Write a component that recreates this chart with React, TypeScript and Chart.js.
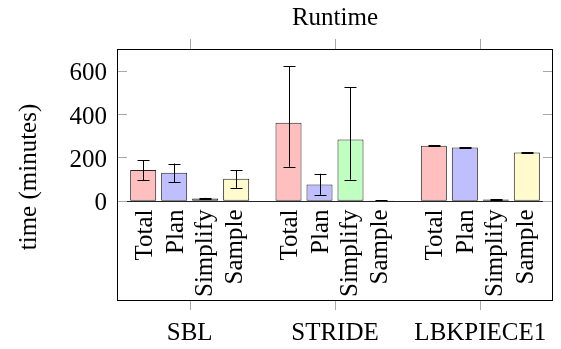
import React, { useEffect, useRef } from "react";
import { Chart, registerables } from "chart.js";

Chart.register(...registerables);

// ---- data ----
const groups = ["SBL", "STRIDE", "LBKPIECE1"];
const seriesNames = ["Total", "Plan", "Simplify", "Sample"];

const totalMean = [142, 360, 254];
const totalLow = [96, 157, 252];
const totalHigh = [188, 621, 256];

const planMean = [129, 75, 246];
const planLow = [85, 28, 245];
const planHigh = [172, 125, 247];

const simplifyMean = [11, 283, 6];
const simplifyLow = [8, 98, 5];
const simplifyHigh = [14, 523, 7];

const sampleMean = [102, 2, 223];
const sampleLow = [60, 1, 222];
const sampleHigh = [140, 3, 224];

const yTicks = [0, 200, 400, 600];
const yMin = -457;
const yMax = 700;
const chartTitle = "Runtime";
const yTitle = "time (minutes)";

const fills = ["#ffbfbf", "#bfbfff", "#bfffbf", "#fffbcc"];

const means = [totalMean, planMean, simplifyMean, sampleMean];
const lows = [totalLow, planLow, simplifyLow, sampleLow];
const highs = [totalHigh, planHigh, simplifyHigh, sampleHigh];

const FONT_FAMILY = '"Liberation Serif", "DejaVu Serif", serif';
const FONT = `25px ${FONT_FAMILY}`;

const px = (v: number) => Math.round(v) + 0.5;

const decoPlugin = {
  id: "deco",
  afterDatasetsDraw(chart: any) {
    const ctx: CanvasRenderingContext2D = chart.ctx;
    const { left, right, top, bottom } = chart.chartArea;
    const xs = chart.scales.x;
    const ys = chart.scales.y;
    ctx.save();

    // error bars
    ctx.strokeStyle = "#000";
    ctx.lineWidth = 1;
    chart.data.datasets.forEach((_ds: any, di: number) => {
      const meta = chart.getDatasetMeta(di);
      meta.data.forEach((el: any, i: number) => {
        const x = px(el.x);
        const yl = ys.getPixelForValue(lows[di][i]);
        const yh = ys.getPixelForValue(highs[di][i]);
        ctx.beginPath();
        ctx.moveTo(x, yh);
        ctx.lineTo(x, yl);
        ctx.moveTo(x - 6, px(yh));
        ctx.lineTo(x + 6, px(yh));
        ctx.moveTo(x - 6, px(yl));
        ctx.lineTo(x + 6, px(yl));
        ctx.stroke();
      });
    });

    // zero line
    const y0 = px(ys.getPixelForValue(0));
    ctx.strokeStyle = "#222";
    ctx.beginPath();
    ctx.moveTo(left, y0);
    ctx.lineTo(right, y0);
    ctx.stroke();

    // ticks (gray)
    ctx.strokeStyle = "#a8a8a8";
    ctx.lineWidth = 1;
    yTicks.forEach((t) => {
      const y = px(ys.getPixelForValue(t));
      ctx.beginPath();
      ctx.moveTo(left, y);
      ctx.lineTo(left + 10, y);
      ctx.moveTo(right - 10, y);
      ctx.lineTo(right, y);
      ctx.stroke();
    });
    groups.forEach((_g, i) => {
      const x = px(xs.getPixelForValue(i));
      ctx.beginPath();
      ctx.moveTo(x, top - 10);
      ctx.lineTo(x, top);
      ctx.moveTo(x, bottom);
      ctx.lineTo(x, bottom + 10);
      ctx.stroke();
    });

    // frame
    ctx.strokeStyle = "#000";
    ctx.lineWidth = 1;
    ctx.strokeRect(px(left), px(top), Math.round(right - left) - 1, Math.round(bottom - top));

    // text
    ctx.fillStyle = "#000";
    ctx.font = FONT;

    // y tick labels
    ctx.textAlign = "right";
    ctx.textBaseline = "alphabetic";
    yTicks.forEach((t) => {
      const y = ys.getPixelForValue(t);
      const m = ctx.measureText(String(t));
      ctx.fillText(String(t), left - 10, y + m.actualBoundingBoxAscent / 2 + 1);
    });

    // rotated bar labels
    chart.data.datasets.forEach((_ds: any, di: number) => {
      const meta = chart.getDatasetMeta(di);
      const label = seriesNames[di];
      const m = ctx.measureText(label);
      const asc = m.actualBoundingBoxAscent;
      const desc = m.actualBoundingBoxDescent;
      meta.data.forEach((el: any) => {
        ctx.save();
        ctx.translate(el.x, y0 + 8);
        ctx.rotate(-Math.PI / 2);
        ctx.textAlign = "right";
        ctx.textBaseline = "alphabetic";
        ctx.fillText(label, 0, (asc - desc) / 2);
        ctx.restore();
      });
    });

    // group labels
    ctx.textAlign = "center";
    ctx.textBaseline = "alphabetic";
    groups.forEach((g, i) => {
      ctx.fillText(g, xs.getPixelForValue(i), 340);
    });

    // title
    ctx.fillText(chartTitle, (left + right) / 2, 25);

    // y title
    ctx.save();
    ctx.translate(36, (top + bottom) / 2 + 2.5);
    ctx.rotate(-Math.PI / 2);
    ctx.textAlign = "center";
    ctx.textBaseline = "alphabetic";
    ctx.fillText(yTitle, 0, 0);
    ctx.restore();

    ctx.restore();
  },
};

export default function App() {
  const ref = useRef<HTMLCanvasElement | null>(null);

  useEffect(() => {
    document.body.style.margin = "0";
    const canvas = ref.current;
    if (!canvas) return;
    const chart = new Chart(canvas, {
      type: "bar",
      data: {
        labels: groups,
        datasets: seriesNames.map((name, di) => ({
          label: name,
          data: means[di],
          backgroundColor: fills[di],
          borderColor: "#222",
          borderWidth: 1,
          borderSkipped: false,
          categoryPercentage: 0.853,
          barPercentage: 0.84,
        })),
      },
      options: {
        responsive: false,
        animation: false,
        devicePixelRatio: 1,
        layout: { padding: { left: 117, right: 8, top: 49, bottom: 49 } },
        scales: {
          x: { type: "category", display: false, offset: true },
          y: { type: "linear", display: false, min: yMin, max: yMax },
        },
        plugins: {
          legend: { display: false },
          tooltip: { enabled: false },
          title: { display: false },
        },
      },
      plugins: [decoPlugin],
    });
    return () => chart.destroy();
  }, []);

  return (
    <div style={{ position: "absolute", left: 0, top: 0, width: 561, height: 349, background: "#fff" }}>
      <canvas ref={ref} width={561} height={349} style={{ width: 561, height: 349, display: "block" }} />
    </div>
  );
}
